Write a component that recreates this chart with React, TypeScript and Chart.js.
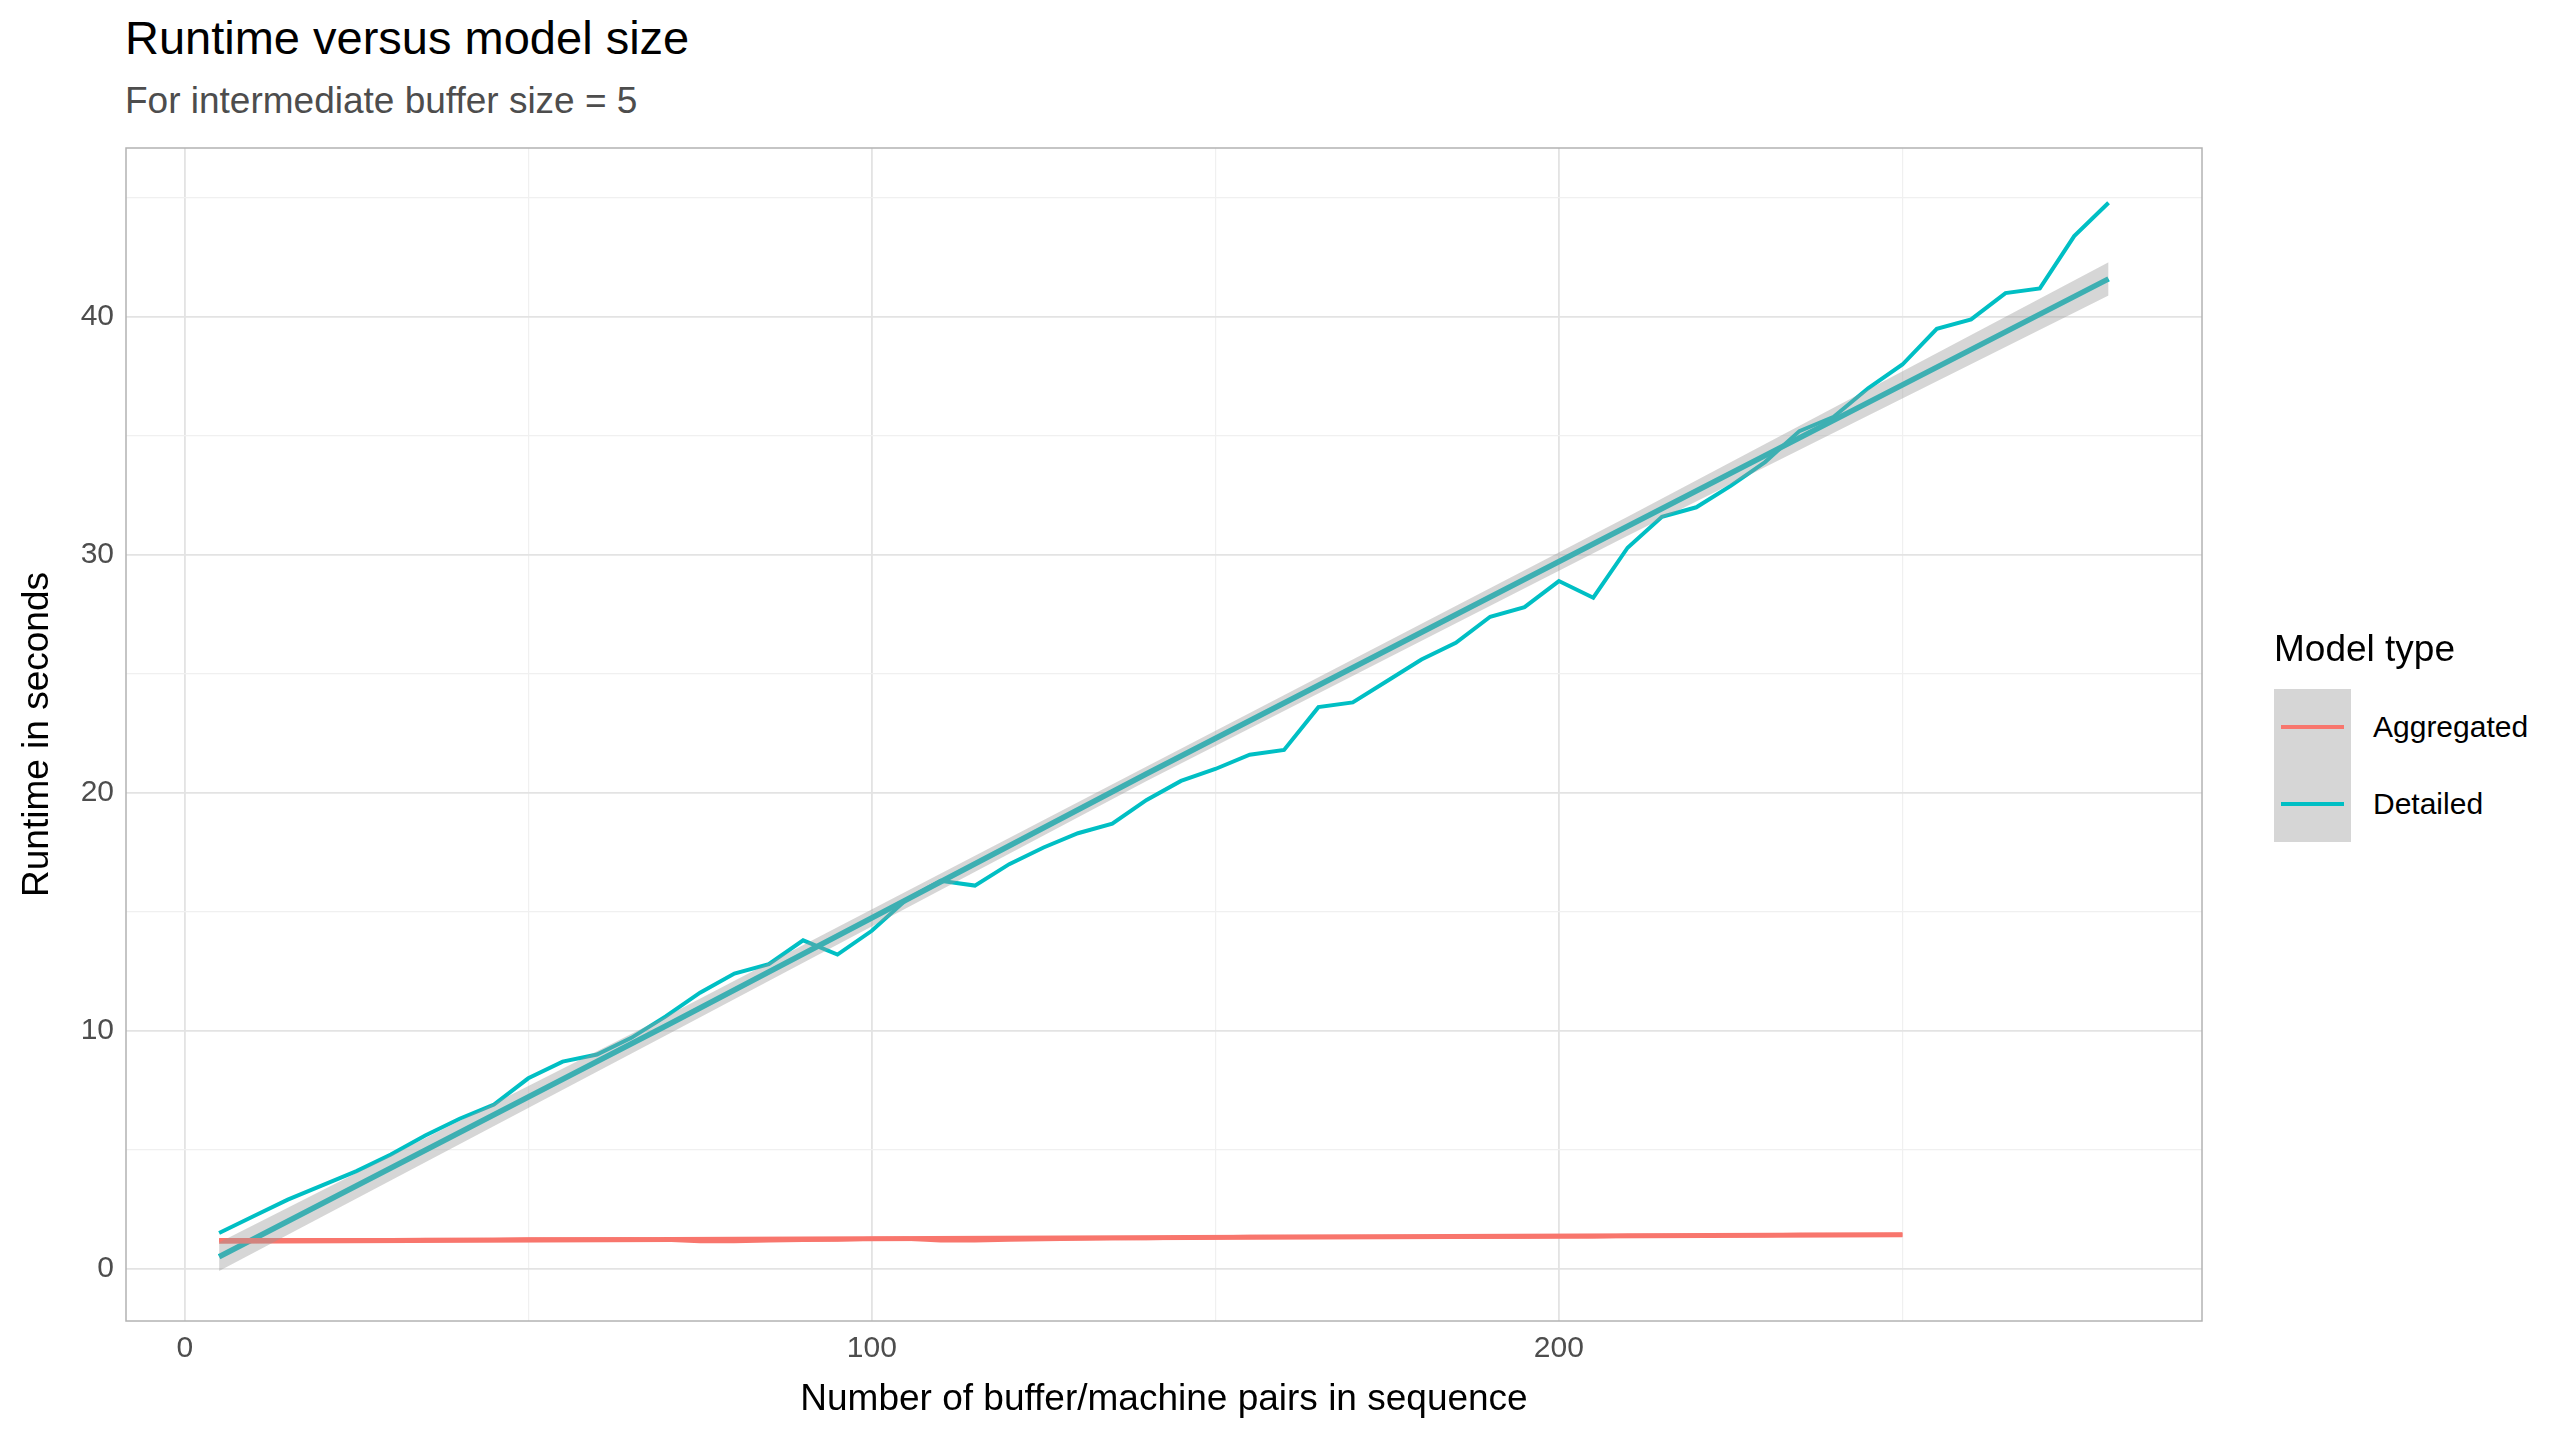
import { useEffect, useRef } from 'react';
import { Chart, registerables } from 'chart.js';

Chart.register(...registerables);

const detailedX = [5, 10, 15, 20, 25, 30, 35, 40, 45, 50, 55, 60, 65, 70, 75, 80, 85, 90, 95, 100, 105, 110, 115, 120, 125, 130, 135, 140, 145, 150, 155, 160, 165, 170, 175, 180, 185, 190, 195, 200, 205, 210, 215, 220, 225, 230, 235, 240, 245, 250, 255, 260, 265, 270, 275, 280];
const detailedY = [1.5, 2.2, 2.9, 3.5, 4.1, 4.8, 5.6, 6.3, 6.9, 8.0, 8.7, 9.0, 9.7, 10.6, 11.6, 12.4, 12.8, 13.8, 13.2, 14.2, 15.5, 16.3, 16.1, 17.0, 17.7, 18.3, 18.7, 19.7, 20.5, 21.0, 21.6, 21.8, 23.6, 23.8, 24.7, 25.6, 26.3, 27.4, 27.8, 28.9, 28.2, 30.3, 31.6, 32.0, 32.9, 33.9, 35.2, 35.8, 37.0, 38.0, 39.5, 39.9, 41.0, 41.2, 43.4, 44.8];

const aggregatedX = [5, 10, 15, 20, 25, 30, 35, 40, 45, 50, 55, 60, 65, 70, 75, 80, 85, 90, 95, 100, 105, 110, 115, 120, 125, 130, 135, 140, 145, 150, 155, 160, 165, 170, 175, 180, 185, 190, 195, 200, 205, 210, 215, 220, 225, 230, 235, 240, 245, 250];
const aggregatedY = [1.2, 1.2, 1.2, 1.2, 1.2, 1.2, 1.22, 1.22, 1.22, 1.24, 1.24, 1.24, 1.24, 1.22, 1.15, 1.15, 1.18, 1.2, 1.22, 1.26, 1.26, 1.18, 1.18, 1.22, 1.24, 1.26, 1.28, 1.28, 1.3, 1.32, 1.34, 1.34, 1.34, 1.34, 1.34, 1.34, 1.34, 1.34, 1.34, 1.35, 1.35, 1.38, 1.38, 1.38, 1.4, 1.4, 1.42, 1.42, 1.42, 1.42];

// linear fit
const fitX = [5, 70, 140, 210, 280];
const detFit = [0.5, 10.2, 20.8, 31.2, 41.6];
const detLower = [-0.1, 9.8, 20.5, 30.8, 40.9];
const detUpper = [1.1, 10.6, 21.1, 31.6, 42.3];
const aggFitX = [5, 250];
const aggFit = [1.15, 1.42];

const xTicks = [0, 50, 100, 150, 200, 250];
const yTicks = [0, 5, 10, 15, 20, 25, 30, 35, 40, 45];

const TEAL = '#00BFC4';
const RED = '#F8766D';

const pts = (xs: number[], ys: number[]) => xs.map((x, i) => ({ x, y: ys[i] }));

const panelBorder = {
  id: 'panelBorder',
  afterDraw(chart: any) {
    const { ctx, chartArea: a } = chart;
    ctx.save();
    ctx.strokeStyle = '#b3b3b3';
    ctx.lineWidth = 1.5;
    ctx.strokeRect(a.left, a.top, a.right - a.left, a.bottom - a.top);
    ctx.restore();
  },
};

export default function App() {
  const canvasRef = useRef<HTMLCanvasElement>(null);
  const chartRef = useRef<any>(null);

  useEffect(() => {
    if (!canvasRef.current) return;
    if (chartRef.current) chartRef.current.destroy();
    const ctx = canvasRef.current.getContext('2d');
    if (!ctx) return;

    const tickFont = { family: 'Liberation Sans, Arial, sans-serif', size: 30 };
    const titleFont = { family: 'Liberation Sans, Arial, sans-serif', size: 37 };

    chartRef.current = new Chart(ctx, {
      type: 'line',
      data: {
        datasets: [
          { data: pts(fitX, detLower), borderWidth: 0, pointRadius: 0, fill: false, backgroundColor: 'rgba(153,153,153,0.4)' },
          { data: pts(fitX, detUpper), borderWidth: 0, pointRadius: 0, fill: '-1', backgroundColor: 'rgba(153,153,153,0.4)' },
          { data: pts(aggregatedX, aggregatedY), borderColor: RED, borderWidth: 4, pointRadius: 0, tension: 0 },
          { data: pts(aggFitX, aggFit), borderColor: RED, borderWidth: 5, pointRadius: 0 },
          { data: pts(detailedX, detailedY), borderColor: TEAL, borderWidth: 4, pointRadius: 0, tension: 0 },
          { data: pts(fitX, detFit), borderColor: TEAL, borderWidth: 5.5, pointRadius: 0 },
        ],
      },
      options: {
        responsive: false,
        animation: false,
        layout: { padding: { top: 148, right: 98, bottom: 14, left: 12 } },
        plugins: { legend: { display: false }, tooltip: { enabled: false } },
        scales: {
          x: {
            type: 'linear',
            min: -8.55,
            max: 293.6,
            afterBuildTicks: (s: any) => { s.ticks = xTicks.map((v) => ({ value: v })); },
            afterFit: (s: any) => { s.height = 105; },
            grid: {
              drawTicks: false,
              color: (c: any) => (c.tick && c.tick.value % 100 === 0 ? '#e3e3e3' : '#f0f0f0'),
              lineWidth: (c: any) => (c.tick && c.tick.value % 100 === 0 ? 1.8 : 1.2),
            },
            border: { display: false },
            ticks: {
              color: '#4d4d4d',
              font: tickFont,
              padding: 10,
              callback: (v: any) => (v % 100 === 0 ? String(v) : ''),
            },
            title: { display: true, text: 'Number of buffer/machine pairs in sequence', color: '#000', font: titleFont, padding: { top: 0 } },
          },
          y: {
            min: -2.2,
            max: 47.1,
            afterBuildTicks: (s: any) => { s.ticks = yTicks.map((v) => ({ value: v })); },
            afterFit: (s: any) => { s.width = 114; },
            grid: {
              drawTicks: false,
              color: (c: any) => (c.tick && c.tick.value % 10 === 0 ? '#e3e3e3' : '#f0f0f0'),
              lineWidth: (c: any) => (c.tick && c.tick.value % 10 === 0 ? 1.8 : 1.2),
            },
            border: { display: false },
            ticks: {
              color: '#4d4d4d',
              font: tickFont,
              padding: 12,
              callback: (v: any) => (v % 10 === 0 ? String(v) : ''),
            },
            title: { display: true, text: 'Runtime in seconds', color: '#000', font: titleFont, padding: { bottom: 4 } },
          },
        },
      },
      plugins: [panelBorder],
    });

    return () => {
      if (chartRef.current) chartRef.current.destroy();
    };
  }, []);

  const font = 'Liberation Sans, Arial, sans-serif';
  return (
    <div style={{ position: 'absolute', left: 0, top: 0, width: 2560, height: 1440, background: '#fff', fontFamily: font }}>
      <div style={{ position: 'absolute', left: 125, top: 10, fontSize: 47, color: '#000' }}>Runtime versus model size</div>
      <div style={{ position: 'absolute', left: 125, top: 80, fontSize: 37, color: '#4d4d4d' }}>For intermediate buffer size = 5</div>
      <canvas ref={canvasRef} width={2300} height={1440} style={{ position: 'absolute', left: 0, top: 0 }} />
      <div style={{ position: 'absolute', left: 2274, top: 628, fontSize: 37, color: '#000' }}>Model type</div>
      <div style={{ position: 'absolute', left: 2274, top: 689, width: 77, height: 153, background: '#d6d6d6' }} />
      <div style={{ position: 'absolute', left: 2281, top: 725, width: 63, height: 4, background: RED }} />
      <div style={{ position: 'absolute', left: 2281, top: 802, width: 63, height: 4, background: TEAL }} />
      <div style={{ position: 'absolute', left: 2373, top: 710, fontSize: 30, color: '#000' }}>Aggregated</div>
      <div style={{ position: 'absolute', left: 2373, top: 787, fontSize: 30, color: '#000' }}>Detailed</div>
    </div>
  );
}
